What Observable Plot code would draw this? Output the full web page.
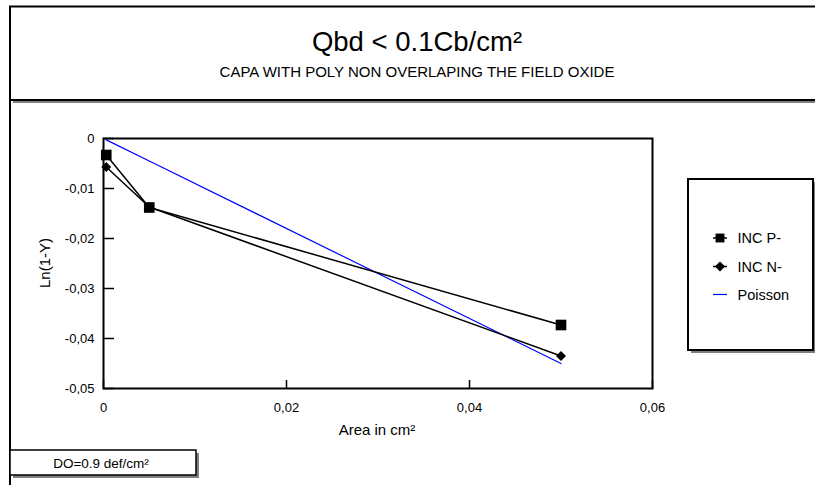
<!DOCTYPE html>
<html>
<head>
<meta charset="utf-8">
<script src="https://cdn.jsdelivr.net/npm/d3@7"></script>
<script src="https://cdn.jsdelivr.net/npm/@observablehq/plot@0.6"></script>
<style>
  body { margin: 0; background: #fff; }
  #chart { width: 815px; height: 485px; overflow: hidden; }
</style>
</head>
<body>
<div id="chart"></div>
<script>
// ---- data ----
const areas = [0.0003, 0.005, 0.05];
const incP = [-0.0033, -0.0138, -0.0373];
const incN = [-0.0057, -0.0137, -0.0435];
const poisson = [-0.00027, -0.0045, -0.045];
const seriesNames = ["INC P-", "INC N-", "Poisson"];
const xTicks = [0, 0.02, 0.04, 0.06];
const yTicks = [0, -0.01, -0.02, -0.03, -0.04, -0.05];
const titleText = "Qbd < 0.1Cb/cm²";
const subtitleText = "CAPA WITH POLY NON OVERLAPING THE FIELD OXIDE";
const noteText = "DO=0.9 def/cm²";
const xLabel = "Area in cm²";
const yLabel = "Ln(1-Y)";

const fmt = v => v === 0 ? "0" : String(v).replace(".", ",");
const rows = (name, ys) => areas.map((a, i) => ({area: a, value: ys[i], series: name}));
const dataP = rows(seriesNames[0], incP);
const dataN = rows(seriesNames[1], incN);
const dataPo = rows(seriesNames[2], poisson);

const FONT = "'Liberation Sans', Arial, Helvetica, sans-serif";

const svg = Plot.plot({
  width: 815,
  height: 485,
  marginLeft: 103,
  marginRight: 163,
  marginTop: 138,
  marginBottom: 97,
  style: {fontFamily: FONT, fontSize: "13px", color: "#000", background: "#fff", overflow: "visible"},
  x: {domain: [0, 0.06]},
  y: {domain: [-0.05, 0]},
  marks: [
    Plot.axisX({ticks: xTicks, tickFormat: fmt, tickSize: 0, tickPadding: 14, label: null}),
    Plot.axisY({ticks: yTicks, tickFormat: fmt, tickSize: 0, tickPadding: 9, label: null}),
    // inward tick marks
    Plot.tickX(xTicks, {x: d => d, insetTop: 242, stroke: "#000", strokeWidth: 1.5}),
    Plot.tickY(yTicks, {y: d => d, insetRight: 538, stroke: "#000", strokeWidth: 1.5}),
    Plot.line(dataPo, {x: "area", y: "value", stroke: "#0000ff", strokeWidth: 1.2}),
    Plot.line(dataP, {x: "area", y: "value", stroke: "#000", strokeWidth: 1.5}),
    Plot.line(dataN, {x: "area", y: "value", stroke: "#000", strokeWidth: 1.5}),
    Plot.dot(dataP, {x: "area", y: "value", symbol: "square", r: 6, fill: "#000", stroke: null}),
    Plot.dot(dataN, {x: "area", y: "value", symbol: "diamond2", r: 4.5, fill: "#000", stroke: null}),
    Plot.frame({stroke: "#000", strokeWidth: 2})
  ]
});

document.getElementById("chart").appendChild(svg);

// ---- decorations: boxes, titles, labels, legend ----
const s = d3.select(svg);
const deco = s.insert("g", ":first-child");
// title box with shadow
deco.append("rect").attr("x", 13).attr("y", 9.5).attr("width", 830).attr("height", 93.5).attr("fill", "#808080");
deco.append("rect").attr("x", 10).attr("y", 6.5).attr("width", 830).attr("height", 93.5)
  .attr("fill", "#fff").attr("stroke", "#000").attr("stroke-width", 2);
// lower panel left border
deco.append("line").attr("x1", 10).attr("x2", 10).attr("y1", 100).attr("y2", 490)
  .attr("stroke", "#000").attr("stroke-width", 2);

const fg = s.append("g").attr("font-family", FONT).attr("fill", "#000").attr("text-anchor", "start");
fg.append("text").attr("x", 417).attr("y", 51).attr("text-anchor", "middle")
  .attr("font-size", 27.5).text(titleText);
fg.append("text").attr("x", 417).attr("y", 77).attr("text-anchor", "middle")
  .attr("font-size", 15).text(subtitleText);

// axis labels
fg.append("text").attr("x", 377).attr("y", 435).attr("text-anchor", "middle")
  .attr("font-size", 15).text(xLabel);
fg.append("text").attr("transform", "translate(50,263) rotate(-90)").attr("text-anchor", "middle")
  .attr("font-size", 15).text(yLabel);

// note box
fg.append("rect").attr("x", 13).attr("y", 453).attr("width", 186).attr("height", 25).attr("fill", "#808080");
fg.append("rect").attr("x", 10).attr("y", 450).attr("width", 186).attr("height", 25)
  .attr("fill", "#fff").attr("stroke", "#000").attr("stroke-width", 1.5);
fg.append("text").attr("x", 101).attr("y", 467.5).attr("text-anchor", "middle")
  .attr("font-size", 13.5).text(noteText);

// legend box
fg.append("rect").attr("x", 691).attr("y", 182).attr("width", 125).attr("height", 171).attr("fill", "#808080");
fg.append("rect").attr("x", 688).attr("y", 179).attr("width", 125).attr("height", 171)
  .attr("fill", "#fff").attr("stroke", "#000").attr("stroke-width", 2);
const legendY = [238, 266.5, 294.5];
const legendSym = [d3.symbolSquare, d3.symbolDiamond2, null];
const legendR = [5, 4.5, 0];
seriesNames.forEach((name, i) => {
  const g = fg.append("g").attr("transform", `translate(720,${legendY[i]})`);
  g.append("line").attr("x1", -7).attr("x2", 7).attr("y1", 0).attr("y2", 0)
    .attr("stroke", i === 2 ? "#0000ff" : "#000").attr("stroke-width", i === 2 ? 1.2 : 1.5);
  if (legendSym[i]) {
    g.append("path").attr("d", d3.symbol(legendSym[i], Math.PI * legendR[i] * legendR[i])()).attr("fill", "#000");
  }
  g.append("text").attr("x", 17.5).attr("y", 5).attr("text-anchor", "start")
    .attr("font-size", 14.5).text(name);
});
</script>
</body>
</html>
